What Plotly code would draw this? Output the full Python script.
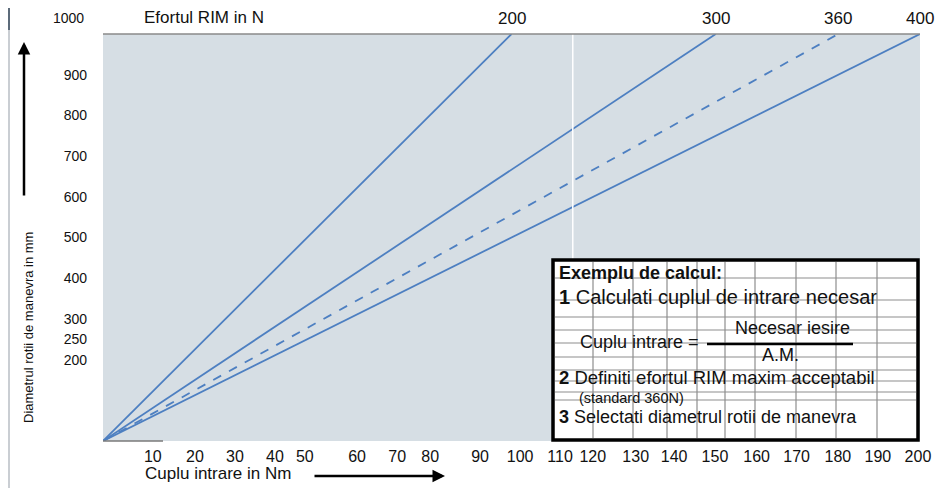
"""Diagrama: diametrul rotii de manevra vs. cuplul de intrare, pe efort RIM."""

import plotly.graph_objects as go

# screen size and plot-area edges in screen pixels; the page body adds an 8px margin
W, H = 948, 488
PAGE_OFF = 8
L, R, T, B = 103, 28, 34, 47

FONT = "Liberation Sans, Arial, sans-serif"
LINE_COLOR = "#4d7fc1"
PLOT_BG = "#d6dee4"
GRID_IN_BOX = "#8e8e8e"

# --- data ---
FORCES_N = ["200", "300", "360", "400"]
TORQUE_AT_TOP_NM = [100, 150, 180, 200]      # cuplu at D = 1000 mm
FORCE_DASH = ["solid", "solid", "dash", "solid"]
DIAM_MM = [0, 1000]

Y_TICKS = [200, 250, 300, 400, 500, 600, 700, 800, 900]
X_TICK_LABELS = ["10", "20", "30", "40", "50", "60", "70", "80", "90", "100",
                 "110", "120", "130", "140", "150", "160", "170", "180", "190", "200"]
X_TICK_POS = [12.2, 22.5, 32.3, 42.1, 49.4, 62.2, 72.0, 80.1, 92.3, 102.1,
              111.9, 119.9, 130.4, 139.8, 149.8, 160.0, 169.8, 179.9, 189.7, 199.5]
MARKER_NM = 115

BOX_VLINES_PX = [593, 633, 667, 697, 725, 755, 796, 836, 877]
BOX_HLINES_PX = [278, 300, 317, 330, 343, 357, 370, 381, 392, 400]


def px(x):
    return (x - L) / (W - L - R)


def py(y):
    return (H - B - y) / (H - T - B)


def _text(x, y, text, size=19, anchor="left", bold=False, **kw):
    if bold:
        text = f"<b>{text}</b>"
    return dict(x=px(x), y=py(y), xref="paper", yref="paper", text=text,
                showarrow=False, xanchor=anchor, yanchor="middle",
                font=dict(family=FONT, size=size, color="#111"), **kw)


def _seg(x0, y0, x1, y1, color, width):
    return dict(type="line", xref="paper", yref="paper",
                x0=px(x0), y0=py(y0), x1=px(x1), y1=py(y1),
                line=dict(color=color, width=width))


fig = go.Figure()
for f, t, dash in zip(FORCES_N, TORQUE_AT_TOP_NM, FORCE_DASH):
    fig.add_trace(go.Scatter(
        x=[0, t], y=DIAM_MM, mode="lines", name=f"{f} N",
        line=dict(color=LINE_COLOR, width=1.8, dash=dash),
        hoverinfo="skip",
    ))

shapes = [
    # white marker line + top border
    dict(type="line", xref="x", yref="y", x0=MARKER_NM, x1=MARKER_NM, y0=447, y1=1000,
         line=dict(color="white", width=1.5)),
    _seg(L, T, W - R, T, "#8a8a8a", 1.5),
    _seg(L, H - B, 163, H - B, "#7a7a7a", 1.5),
    # page edge on the left
    _seg(9, 0, 9, 30, "#5c6b7a", 2),
    _seg(9, 30, 9, H, "#b9bec4", 1.5),
    # info box
    dict(type="rect", xref="paper", yref="paper",
         x0=px(553), y0=py(440), x1=px(918), y1=py(260),
         fillcolor="white", line=dict(width=0), layer="above"),
]
for x in BOX_VLINES_PX:
    shapes.append(_seg(x, 262, x, 438, GRID_IN_BOX, 1.2))
for y in BOX_HLINES_PX:
    shapes.append(_seg(555, y, 916, y, GRID_IN_BOX, 1.2))
shapes.append(dict(type="rect", xref="paper", yref="paper",
                   x0=px(553), y0=py(440), x1=px(918), y1=py(260),
                   line=dict(color="black", width=3.5), layer="above"))
shapes.append(_seg(707, 344, 853, 344, "black", 2.5))

annotations = [
    _text(86, 18, "1000", size=14, anchor="right"),
    _text(204, 18, "Efortul RIM in N", size=17, anchor="center"),
    _text(218, 473, "Cuplu intrare in Nm", size=17, anchor="center"),
    _text(28, 328, "Diametrul rotii de manevra in mm", size=13, anchor="center",
          textangle=-90),
    # box text
    _text(557, 273, "Exemplu de calcul:", size=18, bold=True),
    _text(557, 297, "<b>1</b> Calculati cuplul de intrare necesar", size=20),
    _text(792, 328, "Necesar iesire", size=18, anchor="center"),
    _text(578, 342, "Cuplu intrare =", size=18),
    _text(780, 355, "A.M.", size=18, anchor="center"),
    _text(557, 377, "<b>2</b> Definiti efortul RIM maxim acceptabil", size=18.5),
    _text(577, 398, "(standard 360N)", size=14.5),
    _text(557, 417, "<b>3</b> Selectati diametrul rotii de manevra", size=18),
]
for f, t in zip(FORCES_N, TORQUE_AT_TOP_NM):
    annotations.append(dict(x=t, y=py(19), xref="x", yref="paper", text=f,
                            showarrow=False, yanchor="middle",
                            font=dict(family=FONT, size=17, color="#111")))
# arrows next to the axis titles
annotations.append(dict(x=px(24), y=py(42), xref="paper", yref="paper", text="",
                        showarrow=True, ax=0, ay=155, arrowhead=2, arrowsize=1,
                        arrowwidth=2.5, arrowcolor="black"))
annotations.append(dict(x=px(445), y=py(476), xref="paper", yref="paper", text="",
                        showarrow=True, ax=-132, ay=0, arrowhead=2, arrowsize=1,
                        arrowwidth=2.5, arrowcolor="black"))

fig.update_layout(
    width=W - PAGE_OFF, height=H - PAGE_OFF,
    margin=dict(l=L - PAGE_OFF, r=R, t=T - PAGE_OFF, b=B),
    paper_bgcolor="white", plot_bgcolor=PLOT_BG,
    showlegend=False,
    font=dict(family=FONT, size=14, color="#111"),
    shapes=shapes, annotations=annotations,
)
fig.update_xaxes(range=[0, 200], tickvals=X_TICK_POS, ticktext=X_TICK_LABELS,
                 showgrid=False, zeroline=False, showline=False, ticks="",
                 tickfont=dict(size=16), ticklabelstandoff=4, fixedrange=True)
fig.update_yaxes(range=[0, 1000], tickvals=Y_TICKS, showgrid=False, zeroline=False,
                 showline=False, ticks="", tickfont=dict(size=14),
                 ticklabelstandoff=15, fixedrange=True)

fig.write_html("out.html")
